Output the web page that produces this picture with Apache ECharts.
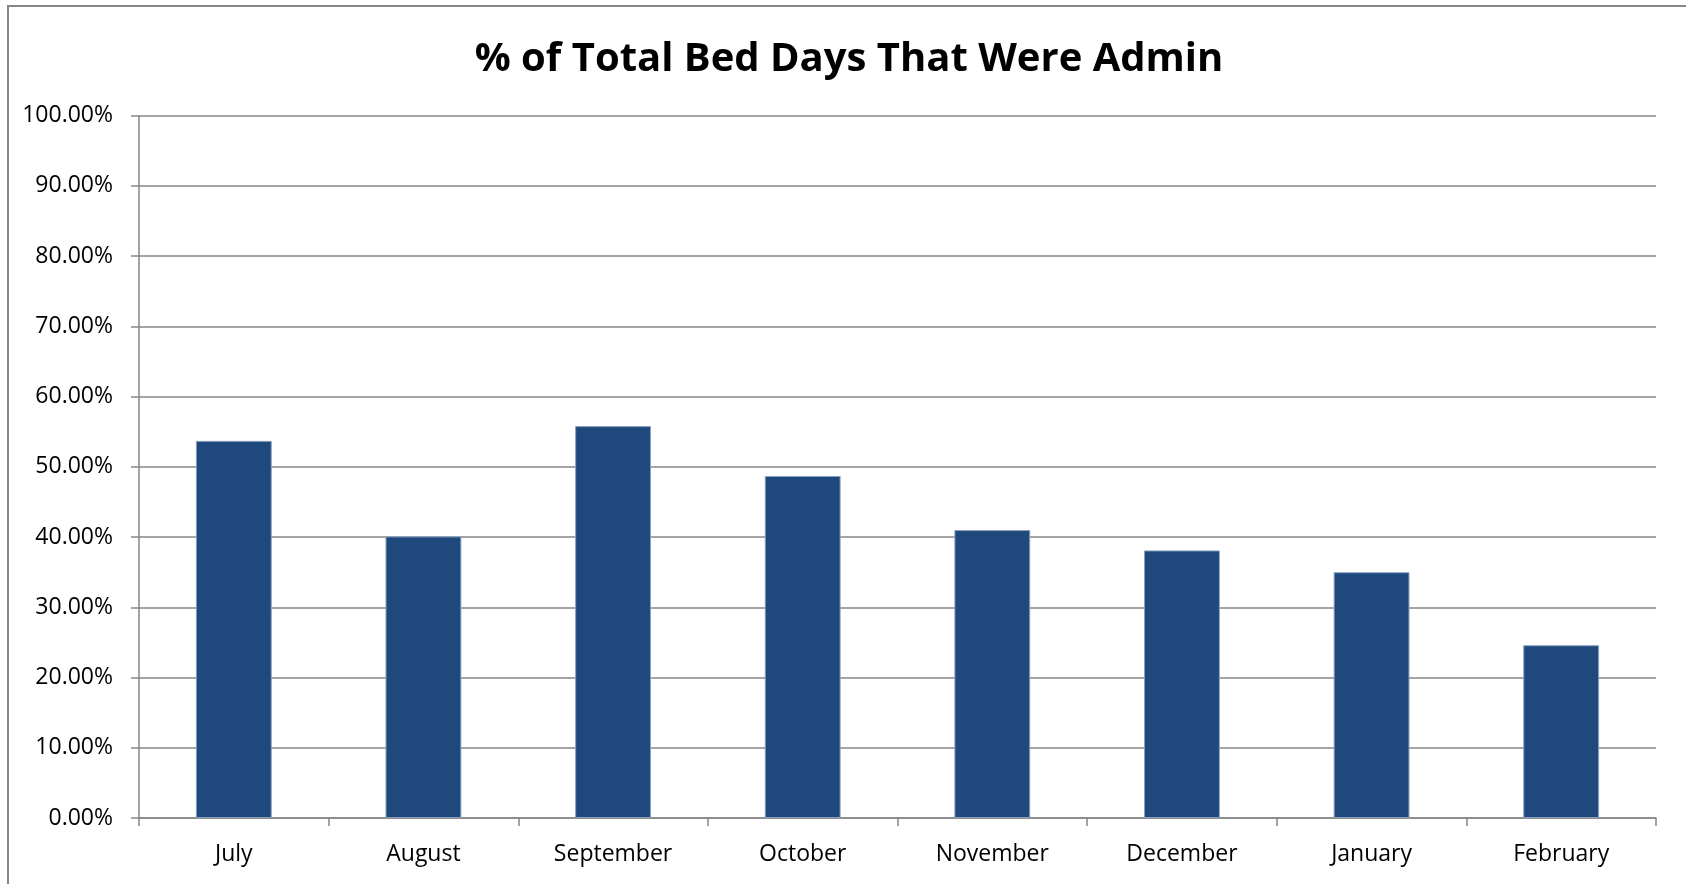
<!DOCTYPE html>
<html>
<head>
<meta charset="utf-8">
<script src="https://cdn.jsdelivr.net/npm/echarts@6/dist/echarts.min.js"></script>
<style>
html,body{margin:0;padding:0;background:#fff;}
#chart{width:1686px;height:884px;}
</style>
</head>
<body>
<div id="chart"></div>
<script>
const titleText = '% of Total Bed Days That Were Admin';
const categories = ['July','August','September','October','November','December','January','February'];
const adminShare = [0.537, 0.401, 0.558, 0.487, 0.410, 0.381, 0.350, 0.246];
const yTicks = { min: 0, max: 1, interval: 0.1 };

const chart = echarts.init(document.getElementById('chart'), null, {renderer:'canvas'});
const font = '"Open Sans", "Liberation Sans", sans-serif';
chart.setOption({
  backgroundColor: '#ffffff',
  animation: false,
  title: {
    text: titleText,
    left: 844,
    top: 55,
    textAlign: 'center',
    textVerticalAlign: 'middle',
    textStyle: { fontFamily: font, fontWeight: 'bold', fontSize: 40, color: '#000' }
  },
  graphic: [{
    type: 'rect',
    shape: { x: 8, y: 6, width: 1720, height: 920 },
    style: { fill: 'none', stroke: '#878787', lineWidth: 2 },
    silent: true, z: 100
  }],
  grid: { left: 139, right: 30, top: 115.7, bottom: 66, containLabel: false },
  xAxis: {
    type: 'category',
    data: categories,
    boundaryGap: true,
    axisLine: { show: true, lineStyle: { color: '#868686', width: 1.5 } },
    axisTick: { show: true, length: 8, lineStyle: { color: '#868686', width: 1.5 } },
    axisLabel: { fontFamily: font, fontSize: 23, color: '#000', margin: 25 },
    splitLine: { show: false }
  },
  yAxis: {
    type: 'value',
    min: yTicks.min, max: yTicks.max, interval: yTicks.interval,
    axisLine: { show: true, lineStyle: { color: '#868686', width: 1.5 } },
    axisTick: { show: true, length: 8, lineStyle: { color: '#868686', width: 1.5 } },
    axisLabel: {
      fontFamily: font, fontSize: 23, color: '#000', margin: 26,
      formatter: v => (v * 100).toFixed(2) + '%'
    },
    splitLine: { show: true, lineStyle: { color: '#868686', width: 1.5 } }
  },
  series: [{
    type: 'bar',
    data: adminShare,
    barWidth: '40%',
    itemStyle: { color: '#1F497D', borderColor: '#8aa0bf', borderWidth: 1 }
  }]
});
</script>
</body>
</html>
